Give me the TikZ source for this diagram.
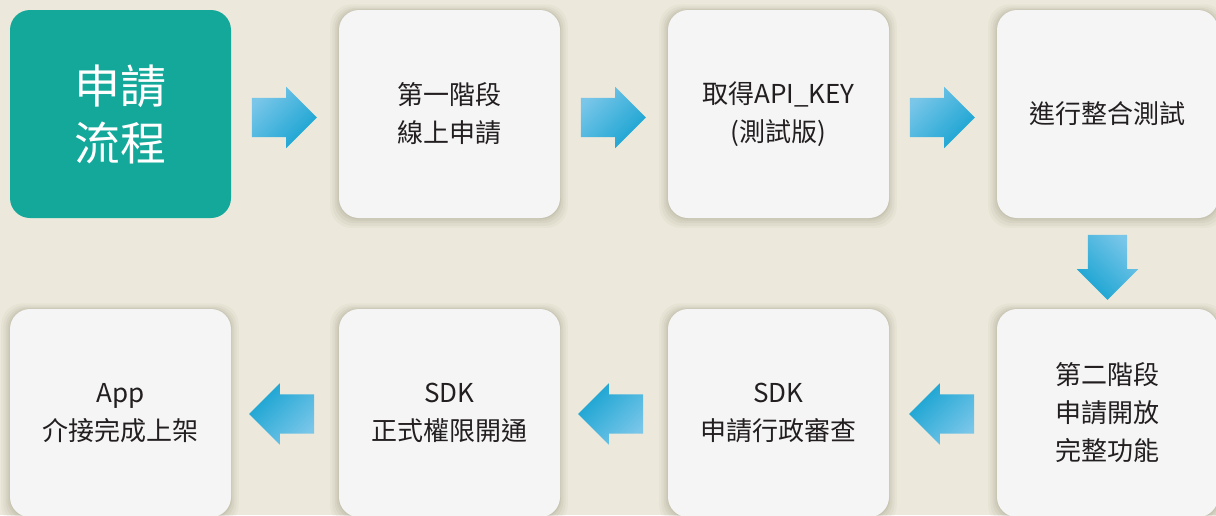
\documentclass[tikz,border=0pt]{standalone}
\usepackage{fontspec}
\setmainfont{Noto Sans CJK TC}
\usetikzlibrary{shapes.arrows,shadows,calc}
\definecolor{bg}{HTML}{ECE9DC}
\definecolor{boxfill}{HTML}{F5F5F5}
\definecolor{teal1}{HTML}{13A89A}
\definecolor{arrlight}{HTML}{79C6E9}
\definecolor{arrdark}{HTML}{16A3D1}
\definecolor{txt}{HTML}{231F20}
\definecolor{shade1}{HTML}{7A7458}
\begin{document}
\begin{tikzpicture}[x=1pt,y=-1pt,
  softshadow/.style={
    general shadow={fill=shade1, opacity=0.05, shadow scale=1.075, shadow xshift=-0.5pt, shadow yshift=-2pt},
    general shadow={fill=shade1, opacity=0.06, shadow scale=1.055, shadow xshift=-0.5pt, shadow yshift=-2pt},
    general shadow={fill=shade1, opacity=0.07, shadow scale=1.035, shadow xshift=-0.5pt, shadow yshift=-1.5pt},
    general shadow={fill=shade1, opacity=0.08, shadow scale=1.018, shadow xshift=-0.5pt, shadow yshift=-1pt},
    general shadow={fill=shade1, opacity=0.10, shadow scale=1.006, shadow xshift=0pt, shadow yshift=-0.5pt}},
  stepbox/.style={softshadow, fill=boxfill, rounded corners=20pt, minimum width=221pt, minimum height=208pt,
    inner sep=0pt, align=center, font=\fontsize{26}{38}\selectfont, text=txt},
  titlebox/.style={fill=teal1, rounded corners=20pt, minimum width=221pt, minimum height=208pt,
    inner sep=0pt, align=center, font=\fontsize{46}{57}\selectfont, text=white},
  blockarrow/.style={single arrow, draw=none, minimum height=65pt, outer sep=0pt,
    single arrow head extend=11pt, single arrow tip angle=90},
  harrow/.style={blockarrow, inner xsep=0pt, inner ysep=19.5pt},
  rarrow/.style={harrow, anchor=tip, top color=arrlight, bottom color=arrdark, shading angle=45},
  larrow/.style={harrow, anchor=tip, shape border rotate=180, top color=arrlight, bottom color=arrdark, shading angle=225},
  darrow/.style={blockarrow, anchor=tip, inner xsep=19.5pt, inner ysep=0pt, shape border rotate=270, top color=arrlight, bottom color=arrdark, shading angle=315},
]
\useasboundingbox[fill=bg] (0,0) rectangle (1216,515);
\node[titlebox] (b1) at (120.5,114) {申請\\流程};
\node[stepbox] (b2) at (449.5,114) {第一階段\\線上申請};
\node[stepbox] (b3) at (778.5,114) {取得API\_KEY\\(測試版)};
\node[stepbox] (b4) at (1107.5,114) {進行整合測試};
\node[stepbox] (b5) at (1107.5,413) {第二階段\\申請開放\\完整功能};
\node[stepbox] (b6) at (778.5,413) {SDK\\申請行政審查};
\node[stepbox] (b7) at (449.5,413) {SDK\\正式權限開通};
\node[stepbox] (b8) at (120.5,413) {App\\介接完成上架};
\node[rarrow] (a1) at ($(b2.west)+(-22,3.5)$) {};
\node[rarrow] (a2) at ($(b3.west)+(-22,3.5)$) {};
\node[rarrow] (a3) at ($(b4.west)+(-22,3.5)$) {};
\node[darrow] (a4) at ($(b5.north)+(0,-9)$) {};
\node[larrow] (a5) at ($(b6.east)+(20,1)$) {};
\node[larrow] (a6) at ($(b7.east)+(18,1)$) {};
\node[larrow] (a7) at ($(b8.east)+(18,1)$) {};
\end{tikzpicture}
\end{document}
